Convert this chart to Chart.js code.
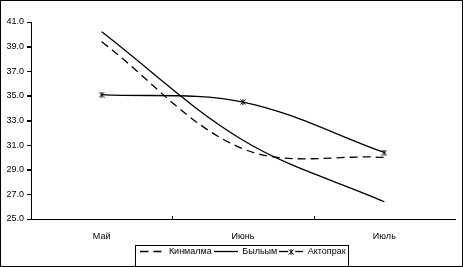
<!DOCTYPE html>
<html>
<head>
<meta charset="utf-8">
<script src="https://cdn.jsdelivr.net/npm/chart.js@4/dist/chart.umd.min.js"></script>
<style>
    html, body { margin: 0; padding: 0; background: #fff; }
    #wrap { width: 461px; height: 265px; border: 1px solid #000; position: relative; }
</style>
</head>
<body>
<div id="wrap"><canvas id="chart"></canvas></div>
<script>
const months = ['Май', 'Июнь', 'Июль'];
const kinmalma = [39.4, 30.7, 30.0];
const bylym = [40.2, 31.4, 26.4];
const aktoprak = [35.1, 34.5, 30.4];
const yMin = 25;
const yMax = 41;
const yStep = 2;

// star marker like "ж"
function makeMarker (size) {
    const c = document.createElement('canvas');
    c.width = size;
    c.height = size;
    const ctx = c.getContext('2d');
    ctx.strokeStyle = '#000';
    ctx.lineWidth = 1;
    ctx.beginPath();
    ctx.moveTo(0.5, 0.5); ctx.lineTo(size - 0.5, size - 0.5);
    ctx.moveTo(size - 0.5, 0.5); ctx.lineTo(0.5, size - 0.5);
    ctx.moveTo(size / 2, 0); ctx.lineTo(size / 2, size);
    ctx.stroke();
    return c;
}

// legend symbol: a short line, maybe dashed, maybe with marker
function makeLegendSymbol (dash, withMarker) {
    const c = document.createElement('canvas');
    c.width = 24;
    c.height = 9;
    const ctx = c.getContext('2d');
    ctx.strokeStyle = '#000';
    ctx.lineWidth = 1.3;
    ctx.setLineDash(dash);
    ctx.beginPath();
    ctx.moveTo(0, 4.5);
    ctx.lineTo(24, 4.5);
    ctx.stroke();
    if (withMarker) {
        ctx.clearRect(9, 0, 7, 9);
        ctx.drawImage(makeMarker(6), 9, 2);
    }
    return c;
}

const marker = makeMarker(6);
const symbols = [
    makeLegendSymbol([8, 5], false),
    makeLegendSymbol([], false),
    makeLegendSymbol([], true)
];

const frame = {
    id: 'frame',
    afterDraw (chart) {
        const ctx = chart.ctx;
        const x = chart.scales.x;
        const y = chart.scales.y;
        ctx.save();
        ctx.strokeStyle = '#000';
        ctx.lineWidth = 1;
        // inward ticks between categories
        for (let i = 1; i < months.length; i++) {
            const px = Math.round((x.getPixelForTick(i - 1) + x.getPixelForTick(i)) / 2) + 0.5;
            ctx.beginPath();
            ctx.moveTo(px, x.top);
            ctx.lineTo(px, x.top - 3);
            ctx.stroke();
        }
        // outward ticks on the value axis
        y.ticks.forEach((t, i) => {
            const py = Math.round(y.getPixelForTick(i)) + 0.5;
            ctx.beginPath();
            ctx.moveTo(y.right - 4, py);
            ctx.lineTo(y.right, py);
            ctx.stroke();
        });
        // box round the legend
        const boxes = chart.legend.legendHitBoxes;
        if (boxes.length) {
            const left = boxes[0].left - 5;
            const last = boxes[boxes.length - 1];
            const right = last.left + last.width + 3;
            const top = chart.legend.top;
            ctx.strokeRect(Math.round(left) + 0.5, Math.round(top) + 0.5, Math.round(right - left), chart.legend.height + 2);
        }
        ctx.restore();
    }
};

Chart.defaults.color = '#000';
Chart.defaults.font.family = '"Liberation Sans", Arial, sans-serif';
Chart.defaults.font.size = 9;

new Chart(document.getElementById('chart'), {
    type: 'line',
    data: {
        labels: months,
        datasets: [
            {
                label: 'Кинмалма',
                data: kinmalma,
                borderColor: '#000',
                borderWidth: 1.3,
                borderDash: [8, 5],
                pointRadius: 0,
                tension: 0.35
            },
            {
                label: 'Быльым',
                data: bylym,
                borderColor: '#000',
                borderWidth: 1.3,
                pointRadius: 0,
                tension: 0.35
            },
            {
                label: 'Актопрак',
                data: aktoprak,
                borderColor: '#000',
                borderWidth: 1.3,
                pointStyle: marker,
                pointRadius: 4,
                tension: 0.35
            }
        ]
    },
    options: {
        responsive: true,
        maintainAspectRatio: false,
        animation: false,
        layout: {
            padding: { top: 21, right: 7, left: 0, bottom: 0 }
        },
        plugins: {
            legend: {
                position: 'bottom',
                fullSize: false,
                labels: {
                    usePointStyle: true,
                    pointStyleWidth: 24,
                    padding: 2,
                    color: '#000',
                    generateLabels: (chart) => chart.data.datasets.map((ds, i) => ({
                        text: ds.label,
                        pointStyle: symbols[i],
                        lineWidth: 0,
                        strokeStyle: '#000',
                        fillStyle: '#000',
                        fontColor: '#000',
                        datasetIndex: i
                    }))
                }
            },
            tooltip: { enabled: false }
        },
        scales: {
            x: {
                offset: true,
                afterFit: (scale) => { scale.height = 26; },
                grid: { display: false },
                border: { display: true, color: '#000', width: 1 },
                ticks: { padding: 4, color: '#000' }
            },
            y: {
                min: yMin,
                max: yMax,
                afterFit: (scale) => { scale.width = 30; },
                grid: { drawOnChartArea: false, tickLength: 4, color: '#000' },
                border: { display: true, color: '#000', width: 1 },
                ticks: {
                    stepSize: yStep,
                    padding: 3,
                    color: '#000',
                    callback: (value) => value.toFixed(1)
                }
            }
        }
    },
    plugins: [frame]
});
</script>
</body>
</html>
